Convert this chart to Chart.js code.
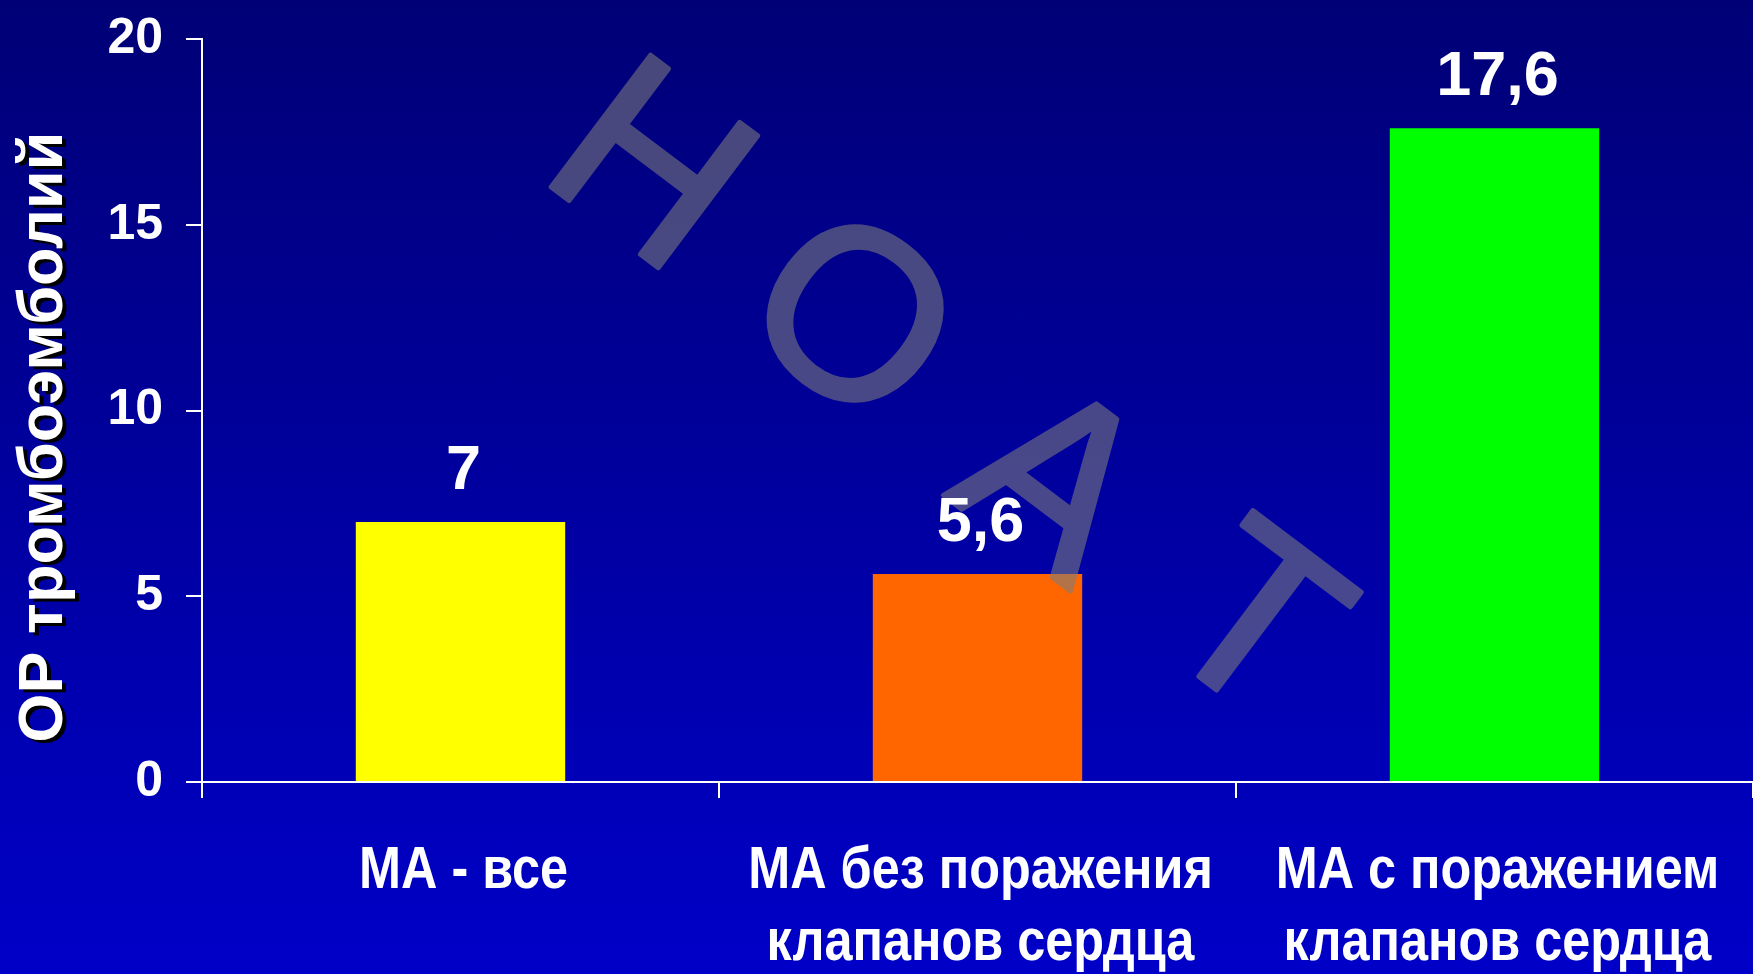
<!DOCTYPE html>
<html lang="ru">
<head>
    <meta charset="UTF-8">
    <title>ОР тромбоэмболий</title>
    <script src="https://cdn.jsdelivr.net/npm/chart.js"></script>
    <style>
        html, body {
            margin: 0;
            padding: 0;
            background: #000078;
            overflow: hidden;
        }
        #wrap {
            width: 1753px;
            height: 974px;
            background: linear-gradient(to bottom, #000076 0%, #0000c8 100%);
        }
    </style>
</head>
<body>
    <div id="wrap"><canvas id="chart" width="1753" height="974"></canvas></div>

    <script>
        // data
        const categories = [
            ['МА - все'],
            ['МА без поражения', 'клапанов сердца'],
            ['МА с поражением', 'клапанов сердца']
        ];
        const riskValues = [7, 5.6, 17.6];
        const barColors = ['#ffff00', '#ff6600', '#00ff00'];
        const yTitle = 'ОР тромбоэмболий';
        const watermark = 'НОАТ';

        const boldFont = "'Liberation Sans', Arial, sans-serif";

        // watermark on its own layer so fill + stroke share one alpha
        function drawWatermark(ctx, w, h) {
            const off = document.createElement('canvas');
            off.width = w;
            off.height = h;
            const o = off.getContext('2d');
            o.font = "240px " + boldFont;
            o.fillStyle = '#7d7d7d';
            o.strokeStyle = '#7d7d7d';
            o.lineWidth = 5;
            o.lineJoin = 'round';
            o.textAlign = 'center';
            o.textBaseline = 'alphabetic';
            const ang = 37 * Math.PI / 180;
            const x0 = 654, y0 = 162, step = 252;
            watermark.split('').forEach((ch, i) => {
                const m = o.measureText(ch);
                o.save();
                o.translate(x0 + i * step * Math.cos(ang), y0 + i * step * Math.sin(ang) + (ch === 'А' ? 12 : 0));
                o.rotate(ang);
                const dy = (m.actualBoundingBoxAscent - m.actualBoundingBoxDescent) / 2;
                o.fillText(ch, 0, dy);
                o.strokeText(ch, 0, dy);
                o.restore();
            });
            ctx.save();
            ctx.globalAlpha = 0.58;
            ctx.drawImage(off, 0, 0);
            ctx.restore();
        }

        const decorations = {
            id: 'decorations',
            afterDatasetsDraw(chart) {
                const ctx = chart.ctx;
                drawWatermark(ctx, chart.width, chart.height);

                // value labels, decimal comma
                const meta = chart.getDatasetMeta(0);
                ctx.save();
                ctx.fillStyle = '#ffffff';
                ctx.font = "bold 63px " + boldFont;
                ctx.textAlign = 'center';
                ctx.textBaseline = 'alphabetic';
                meta.data.forEach((bar, i) => {
                    const txt = String(riskValues[i]).replace('.', ',');
                    ctx.fillText(txt, bar.x + 3, bar.y - 33);
                });
                ctx.restore();
            },
            afterDraw(chart) {
                const ctx = chart.ctx;

                // category labels, condensed like the slide font
                const xs = chart.scales.x;
                ctx.save();
                ctx.fillStyle = '#ffffff';
                ctx.font = "bold 60px " + boldFont;
                ctx.textAlign = 'center';
                ctx.textBaseline = 'alphabetic';
                categories.forEach((lines, i) => {
                    const cx = xs.getPixelForTick(i);
                    lines.forEach((line, j) => {
                        ctx.save();
                        ctx.translate(cx + 3, xs.top + 106 + j * 72);
                        ctx.scale(0.84, 1);
                        ctx.fillText(line, 0, 0);
                        ctx.restore();
                    });
                });
                ctx.restore();

                // y axis title with a dark drop shadow
                ctx.save();
                ctx.translate(45, 437);
                ctx.rotate(-Math.PI / 2);
                ctx.font = "bold 63px " + boldFont;
                ctx.textAlign = 'center';
                ctx.textBaseline = 'middle';
                ctx.fillStyle = '#000000';
                ctx.fillText(yTitle, -3, 4);
                ctx.fillStyle = '#ffffff';
                ctx.fillText(yTitle, 0, 0);
                ctx.restore();
            }
        };

        new Chart(document.getElementById('chart'), {
            type: 'bar',
            data: {
                labels: categories,
                datasets: [{
                    data: riskValues,
                    backgroundColor: barColors,
                    borderWidth: 0,
                    barPercentage: 0.405,
                    categoryPercentage: 1
                }]
            },
            options: {
                responsive: false,
                animation: false,
                events: [],
                layout: { padding: { top: 39, right: 0, left: 0, bottom: 0 } },
                plugins: {
                    legend: { display: false },
                    tooltip: { enabled: false }
                },
                scales: {
                    x: {
                        border: { color: '#ffffff', width: 2 },
                        grid: {
                            drawOnChartArea: false,
                            drawTicks: true,
                            tickLength: 16,
                            color: '#ffffff',
                            lineWidth: 2
                        },
                        ticks: { display: false },
                        afterFit(scale) {
                            scale.height = 192;
                            scale.paddingLeft = 0;
                            scale.paddingRight = 0;
                        }
                    },
                    y: {
                        min: 0,
                        max: 20,
                        border: { color: '#ffffff', width: 2 },
                        grid: {
                            drawOnChartArea: false,
                            drawTicks: true,
                            tickLength: 16,
                            color: '#ffffff',
                            lineWidth: 2
                        },
                        ticks: {
                            stepSize: 5,
                            color: '#ffffff',
                            padding: 23,
                            font: { family: boldFont, size: 50, weight: 'bold' }
                        },
                        afterFit(scale) {
                            scale.width = 202;
                            // let the 20 label overhang the top instead of pushing the plot down
                            scale.paddingTop = 0;
                            scale.paddingBottom = 0;
                        }
                    }
                }
            },
            plugins: [decorations]
        });
    </script>
</body>
</html>
